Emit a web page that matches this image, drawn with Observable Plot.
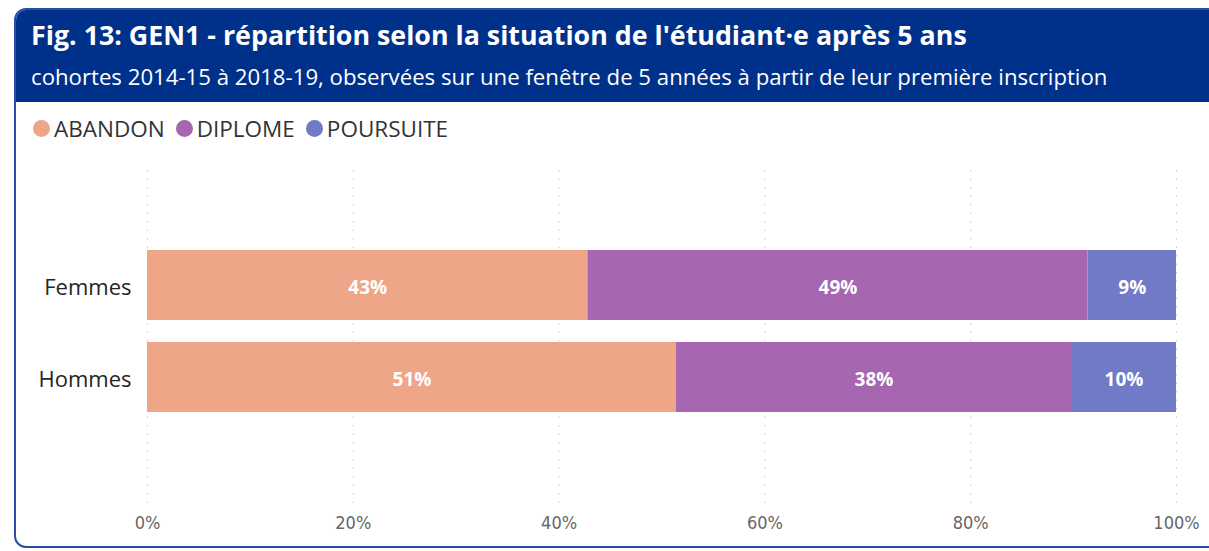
<!DOCTYPE html>
<html>
<head>
<meta charset="utf-8">
<script src="https://cdn.jsdelivr.net/npm/d3@7"></script>
<script src="https://cdn.jsdelivr.net/npm/@observablehq/plot@0.6"></script>
<style>
  html, body { margin: 0; padding: 0; background: #fff; width: 1209px; height: 551px; overflow: hidden; }
  #card { position: absolute; left: 14px; top: 8px; width: 1210px; height: 540px; border: 2px solid #2a4ea6; border-radius: 12px; overflow: hidden; background: #fff; box-sizing: border-box; }
  #head { background: #00318a; height: 92px; padding-left: 15px; box-sizing: border-box; }
  #title { font-family: "Open Sans", "Noto Sans", sans-serif; font-weight: 700; font-size: 26.8px; color: #fff; padding-top: 7px; line-height: 36px; white-space: nowrap; }
  #sub { font-family: "Open Sans", "Noto Sans", sans-serif; font-size: 22.2px; color: #fff; padding-top: 9px; line-height: 30px; white-space: nowrap; }
  #legend { position: absolute; left: 17px; top: 103px; font-family: "Open Sans", "Noto Sans", sans-serif; font-size: 22.5px; color: #333; display: flex; gap: 11px; align-items: center; }
  #legend span.item { display: flex; align-items: center; gap: 4px; }
  #legend span.dot { width: 17px; height: 17px; border-radius: 50%; display: inline-block; }
  #chart { position: absolute; left: 0px; top: 140px; }
</style>
</head>
<body>
<div id="card">
  <div id="head">
    <div id="title">Fig. 13: GEN1 - répartition selon la situation de l'étudiant·e après 5 ans</div>
    <div id="sub">cohortes 2014-15 à 2018-19, observées sur une fenêtre de 5 années à partir de leur première inscription</div>
  </div>
  <div id="legend"></div>
  <div id="chart"></div>
</div>
<script>
const groups = ["Femmes", "Hommes"];
const situations = ["ABANDON", "DIPLOME", "POURSUITE"];
const colors = ["#efa688", "#a666b0", "#717ac6"];
const femmes = [42.8, 48.6, 8.6];
const hommes = [51.4, 38.4, 10.2];
const xTicks = [0, 20, 40, 60, 80, 100];

const series = [femmes, hommes];
const data = [];
groups.forEach((g, gi) => {
  situations.forEach((s, si) => {
    data.push({groupe: g, situation: s, value: series[gi][si]});
  });
});

const legend = document.getElementById("legend");
situations.forEach((s, i) => {
  const item = document.createElement("span");
  item.className = "item";
  item.innerHTML = `<span class="dot" style="background:${colors[i]}"></span>${s}`;
  legend.appendChild(item);
});

const chart = Plot.plot({
  width: 1193,
  height: 390,
  marginLeft: 131,
  marginRight: 33,
  marginTop: 20,
  marginBottom: 35,
  style: {fontFamily: "'Open Sans', 'Noto Sans', sans-serif", background: "transparent"},
  x: {domain: [0, 100], ticks: xTicks, tickFormat: d => d + "%", label: null},
  y: {domain: groups, padding: 0.2366, insetTop: 57, insetBottom: 70, label: null},
  color: {domain: situations, range: colors},
  marks: [
    Plot.ruleX(xTicks, {stroke: "#c8c8c8", strokeDasharray: "1.5,7", strokeWidth: 1}),
    Plot.barX(data, Plot.stackX({y: "groupe", x: "value", fill: "situation", order: situations})),
    Plot.text(data, Plot.stackX({y: "groupe", x: "value", z: "situation", order: situations,
      text: d => Math.round(d.value) + "%", fill: "#fff", fontWeight: 700, fontSize: 19, dy: 2})),
    Plot.axisX({ticks: xTicks, tickFormat: d => d + "%", tickSize: 0, tickPadding: 11, fontSize: 18, fill: "#666", label: null, fontFamily: "'Liberation Sans Narrow', 'DejaVu Sans Condensed', sans-serif"}),
    Plot.axisY({tickSize: 0, tickPadding: 16, fontSize: 22, fill: "#252525", label: null, dy: 2})
  ]
});
document.getElementById("chart").appendChild(chart);
</script>
</body>
</html>
